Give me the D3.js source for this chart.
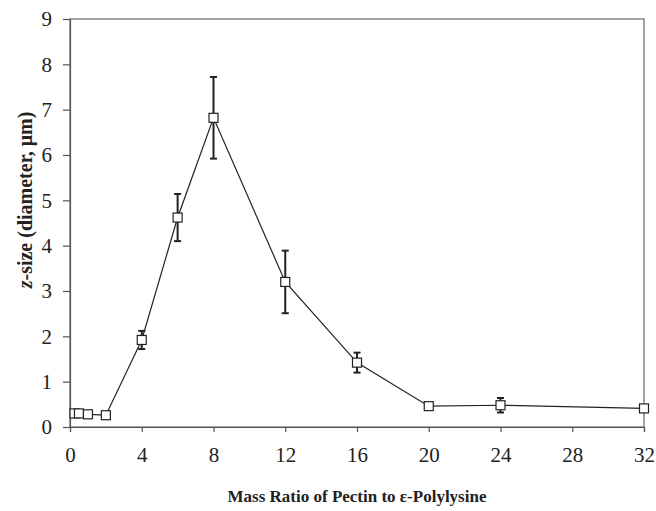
<!DOCTYPE html>
<html>
<head>
<meta charset="utf-8">
<script src="https://cdn.jsdelivr.net/npm/d3@7"></script>
<style>
  body { margin: 0; background: #fff; }
  text { font-family: "Liberation Serif", "Times New Roman", serif; fill: #222; }
</style>
</head>
<body>
<svg id="chart" width="656" height="511"></svg>
<script>
// mass ratio pectin : e-polylysine
var ratios = [0.25, 0.5, 1, 2, 4, 6, 8, 12, 16, 20, 24, 32];
// z-size (diameter, um)
var sizes = [0.3, 0.3, 0.28, 0.26, 1.92, 4.62, 6.82, 3.2, 1.42, 0.46, 0.48, 0.41];
var errs = [0.03, 0.03, 0.06, 0.03, 0.2, 0.52, 0.9, 0.69, 0.22, 0.06, 0.16, 0.03];
var xTicks = [0, 4, 8, 12, 16, 20, 24, 28, 32];
var yTicks = [0, 1, 2, 3, 4, 5, 6, 7, 8, 9];

var pts = ratios.map(function(r, i){ return {x: r, y: sizes[i], e: errs[i]}; });

var margin = {top: 19, right: 12, bottom: 84, left: 70};
var svg = d3.select('#chart');
var w = 656 - margin.left - margin.right;
var h = 511 - margin.top - margin.bottom;
var g = svg.append('g').attr('transform', 'translate(' + margin.left + ',' + margin.top + ')');

var x = d3.scaleLinear().domain([0, 32]).range([0, w]);
var y = d3.scaleLinear().domain([0, 9]).range([h, 0]);

// frame
g.append('rect')
  .attr('width', w).attr('height', h)
  .attr('fill', 'none').attr('stroke', '#666').attr('stroke-width', 1.2);

var xAxis = g.append('g')
  .attr('transform', 'translate(0,' + h + ')')
  .call(d3.axisBottom(x).tickValues(xTicks).tickSize(5).tickPadding(15));
var yAxis = g.append('g')
  .call(d3.axisLeft(y).tickValues(yTicks).tickSize(7).tickPadding(11));

[xAxis, yAxis].forEach(function(a){
  a.select('.domain').attr('stroke', '#555').attr('stroke-width', 1.2);
  a.selectAll('.tick line').attr('stroke', '#555').attr('stroke-width', 1.2);
  a.selectAll('.tick text')
    .style('font-family', '"Liberation Serif", serif')
    .style('font-size', '21px').attr('fill', '#222');
});

// connecting line
g.append('path')
  .datum(pts)
  .attr('fill', 'none')
  .attr('stroke', '#222')
  .attr('stroke-width', 1.2)
  .attr('d', d3.line().x(function(d){ return x(d.x); }).y(function(d){ return y(d.y); }));

// error bars
var eb = g.selectAll('.err').data(pts).enter().append('g').attr('class', 'err')
  .attr('stroke', '#222').attr('stroke-width', 2);
eb.append('line')
  .attr('x1', function(d){ return x(d.x); }).attr('x2', function(d){ return x(d.x); })
  .attr('y1', function(d){ return y(d.y + d.e); }).attr('y2', function(d){ return y(d.y - d.e); });
eb.append('line')
  .attr('x1', function(d){ return x(d.x) - 3.5; }).attr('x2', function(d){ return x(d.x) + 3.5; })
  .attr('y1', function(d){ return y(d.y + d.e); }).attr('y2', function(d){ return y(d.y + d.e); });
eb.append('line')
  .attr('x1', function(d){ return x(d.x) - 3.5; }).attr('x2', function(d){ return x(d.x) + 3.5; })
  .attr('y1', function(d){ return y(d.y - d.e); }).attr('y2', function(d){ return y(d.y - d.e); });

// markers
g.selectAll('.box').data(pts).enter().append('rect')
  .attr('class', 'box')
  .attr('x', function(d){ return x(d.x) - 4.5; })
  .attr('y', function(d){ return y(d.y) - 4.5; })
  .attr('width', 9).attr('height', 9)
  .attr('fill', '#fff').attr('stroke', '#222').attr('stroke-width', 1.2);

// axis titles
svg.append('text')
  .attr('x', margin.left + w / 2).attr('y', 502)
  .attr('text-anchor', 'middle')
  .style('font-size', '17px').style('font-weight', 'bold')
  .text('Mass Ratio of Pectin to ε-Polylysine');

var yl = svg.append('text')
  .attr('transform', 'translate(32,200) rotate(-90)')
  .attr('text-anchor', 'middle')
  .style('font-size', '20px').style('font-weight', 'bold');
yl.append('tspan').style('font-style', 'italic').text('z');
yl.append('tspan').text('-size (diameter, μm)');
</script>
</body>
</html>
